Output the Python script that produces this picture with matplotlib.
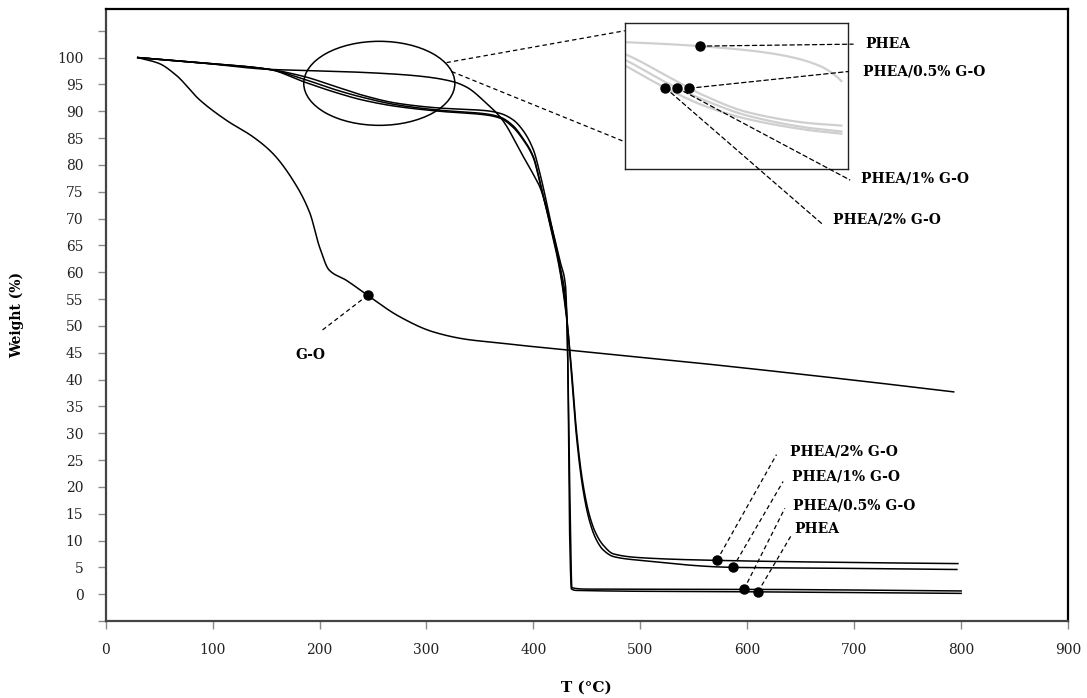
import numpy as np
import matplotlib
matplotlib.use("Agg")
import matplotlib.pyplot as plt
from matplotlib.patches import Ellipse, ConnectionPatch

plt.rcParams['font.family'] = ['DejaVu Serif']

# ---------------- data ----------------
go_T = [30, 50, 66, 88, 113, 138, 156, 175, 191, 200, 209, 225, 238, 245, 275, 306, 337, 369, 387, 432, 543, 699, 793]
go_W = [100, 98.9, 96.7, 92.1, 88.3, 85.2, 82.2, 77.2, 71.0, 64.7, 60.4, 58.5, 56.7, 55.7, 51.7, 48.9, 47.5, 46.8, 46.4, 45.5, 43.3, 39.9, 37.7]

phea_T = [30, 90, 153, 185, 220, 272, 300, 325, 337.5, 356, 368.6, 375, 387, 399.5, 406, 415, 425, 430, 432, 434, 435.5, 440, 600, 800]
phea_W = [100, 99.0, 97.8, 97.6, 97.4, 96.9, 96.4, 95.5, 94.5, 91.5, 89.0, 87.2, 82.8, 78.4, 75.9, 70.0, 62.0, 57.5, 45.0, 10.0, 1.0, 0.7, 0.45, 0.15]

p05_T = [30, 90, 153, 185, 215, 240, 272, 312, 356, 369, 381, 390, 400, 406, 415, 425, 431, 434, 436, 450, 600, 800]
p05_W = [100, 99.0, 97.8, 96.5, 94.6, 93.0, 91.5, 90.6, 90.1, 89.6, 88.4, 86.5, 82.8, 78.5, 70.5, 61.0, 53.0, 20.0, 1.2, 0.95, 0.9, 0.6]

p1_T = [30, 90, 153, 185, 215, 240, 272, 312, 356, 369, 381, 390, 400, 406, 415, 425, 431, 436, 440, 446, 452, 458, 465, 475, 500, 586, 700, 796]
p1_W = [100, 99.0, 97.8, 96.0, 94.0, 92.6, 91.2, 90.2, 89.5, 88.9, 87.3, 85.0, 81.5, 77.0, 69.5, 60.5, 52.0, 40.0, 30.0, 20.0, 14.0, 10.5, 8.3, 7.0, 6.3, 5.0, 4.8, 4.6]

p2_T = [30, 90, 153, 185, 215, 240, 272, 312, 356, 369, 381, 390, 400, 406, 415, 425, 431, 436, 440, 446, 452, 458, 465, 475, 500, 571, 700, 797]
p2_W = [100, 99.0, 97.8, 95.5, 93.5, 92.1, 90.9, 90.0, 89.3, 88.7, 87.0, 84.8, 81.3, 76.8, 69.3, 60.0, 51.5, 41.0, 31.0, 21.0, 15.0, 11.5, 9.2, 7.5, 6.8, 6.3, 5.9, 5.7]

x_ticks = [0, 100, 200, 300, 400, 500, 600, 700, 800, 900]
y_ticks = [-5, 0, 5, 10, 15, 20, 25, 30, 35, 40, 45, 50, 55, 60, 65, 70, 75, 80, 85, 90, 95, 100, 105]
y_ticklabels = ['' if (v < 0 or v > 100) else str(v) for v in y_ticks]

series = [
    ("PHEA", phea_T, phea_W),
    ("PHEA/0.5% G-O", p05_T, p05_W),
    ("PHEA/1% G-O", p1_T, p1_W),
    ("PHEA/2% G-O", p2_T, p2_W),
]


def pchip(x, y, xs):
    """Monotone cubic (PCHIP) curve through the measured points, for smooth drawing."""
    x = np.asarray(x, float)
    y = np.asarray(y, float)
    xs = np.asarray(xs, float)
    h = np.diff(x)
    delta = np.diff(y) / h
    n = len(x)
    d = np.zeros(n)
    for k in range(1, n - 1):
        if delta[k - 1] * delta[k] <= 0:
            d[k] = 0.0
        else:
            w1 = 2 * h[k] + h[k - 1]
            w2 = h[k] + 2 * h[k - 1]
            d[k] = (w1 + w2) / (w1 / delta[k - 1] + w2 / delta[k])
    d[0] = delta[0]
    d[-1] = delta[-1]
    idx = np.clip(np.searchsorted(x, xs) - 1, 0, n - 2)
    t = (xs - x[idx]) / h[idx]
    h00 = 2 * t**3 - 3 * t**2 + 1
    h10 = t**3 - 2 * t**2 + t
    h01 = -2 * t**3 + 3 * t**2
    h11 = t**3 - t**2
    return h00 * y[idx] + h10 * h[idx] * d[idx] + h01 * y[idx + 1] + h11 * h[idx] * d[idx + 1]


def smooth(T, W, lo=None, hi=None, n=3000):
    lo = T[0] if lo is None else lo
    hi = T[-1] if hi is None else hi
    xs = np.linspace(lo, hi, n)
    return xs, pchip(T, W, xs)


# ---------------- figure ----------------
fig = plt.figure(figsize=(10.87, 6.98), dpi=100)
ax = fig.add_axes([0.0972, 0.1103, 0.9856 - 0.0972 - 0.003, 0.9867 - 0.1103])

lw = 1.1
ax.plot(*smooth(go_T, go_W), color='black', lw=lw)
for name, T, W in series:
    ax.plot(*smooth(T, W), color='black', lw=lw)

ax.set_xlim(0, 900)
ax.set_ylim(-5, 109)
ax.set_xticks(x_ticks)
ax.set_yticks(y_ticks)
ax.set_yticklabels(y_ticklabels)
ax.tick_params(direction='out', length=6, width=1, color='#8a8a8a', labelsize=10,
               labelcolor='#222222', pad=10)
for side in ['left', 'bottom']:
    ax.spines[side].set_color('#444444')
    ax.spines[side].set_linewidth(1.6)
for side in ['top', 'right']:
    ax.spines[side].set_color('black')
    ax.spines[side].set_linewidth(1.6)

ax.set_xlabel('T (°C)', fontsize=11, fontweight='bold', labelpad=17)
ax.set_ylabel('Weight (%)', fontsize=10, fontweight='bold', labelpad=24)

dash = (0, (3.5, 2.5))
ms = 6.5

# ellipse around the zoomed region
ax.add_patch(Ellipse((255.9, 95.2), 141.3, 15.66, fill=False, edgecolor='black', lw=1.1))
# connector lines to inset
ax.plot([318.8, 485.5], [99.07, 105.0], color='black', lw=0.9, ls=dash, clip_on=False)
ax.plot([323.5, 485.5], [97.4, 84.3], color='black', lw=0.9, ls=dash, clip_on=False)

# G-O annotation
go_x = 245
go_y = float(pchip(go_T, go_W, [go_x])[0])
ax.plot([go_x, 201.9], [go_y, 49.1], color='black', lw=0.9, ls=dash)
ax.plot([go_x], [go_y], 'o', color='black', ms=ms)
ax.text(191.0, 44.6, 'G-O', fontsize=10, fontweight='bold', ha='center', va='center')

# bottom annotations
bottom_dot_x = {"PHEA/2% G-O": 571.6, "PHEA/1% G-O": 586.6, "PHEA/0.5% G-O": 596.9, "PHEA": 610.0}
bottom_line_end = {"PHEA/2% G-O": (627.3, 26.0), "PHEA/1% G-O": (633.5, 21.0),
                   "PHEA/0.5% G-O": (635.1, 16.0), "PHEA": (641.4, 11.05)}
bottom_text = {"PHEA/2% G-O": (639.7, 26.6), "PHEA/1% G-O": (641.4, 21.9),
               "PHEA/0.5% G-O": (642.9, 16.6), "PHEA": (644.4, 12.2)}
for name, T, W in series:
    dx = bottom_dot_x[name]
    dy = float(pchip(T, W, [dx])[0])
    ex, ey = bottom_line_end[name]
    ax.plot([dx, ex], [dy, ey], color='black', lw=0.9, ls=dash)
    ax.plot([dx], [dy], 'o', color='black', ms=ms)
    tx, ty = bottom_text[name]
    ax.text(tx, ty, name, fontsize=10, fontweight='bold', ha='left', va='center')

# ---------------- inset ----------------
axin = fig.add_axes([0.575, 0.7574, 0.2054, 0.21])
axin.set_xlim(184, 345)
axin.set_ylim(86.5, 99.3)
axin.set_xticks([])
axin.set_yticks([])
for s in axin.spines.values():
    s.set_linewidth(1.0)
    s.set_color('#222222')
for name, T, W in series:
    axin.plot(*smooth(T, W, 185, 340, 400), color='#cfcfcf', lw=1.6)

inset_dot_x = {"PHEA": 238.0, "PHEA/0.5% G-O": 230.4, "PHEA/1% G-O": 221.7, "PHEA/2% G-O": 213.0}
inset_line_end = {"PHEA": (699.0, 102.5), "PHEA/0.5% G-O": (694.3, 97.4),
                  "PHEA/1% G-O": (695.9, 77.2), "PHEA/2% G-O": (669.4, 69.1)}
inset_text = {"PHEA": (709.9, 102.5), "PHEA/0.5% G-O": (708.3, 97.4),
              "PHEA/1% G-O": (706.8, 77.5), "PHEA/2% G-O": (680.3, 69.75)}
for name, T, W in series:
    dx = inset_dot_x[name]
    dy = float(pchip(T, W, [dx])[0])
    ex, ey = inset_line_end[name]
    con = ConnectionPatch(xyA=(dx, dy), coordsA=axin.transData,
                          xyB=(ex, ey), coordsB=ax.transData,
                          color='black', lw=0.9, linestyle=dash, zorder=5)
    fig.add_artist(con)
    axin.plot([dx], [dy], 'o', color='black', ms=ms, zorder=6, clip_on=False)
    tx, ty = inset_text[name]
    ax.text(tx, ty, name, fontsize=10, fontweight='bold', ha='left', va='center')

fig.savefig('out.png', dpi=100)
